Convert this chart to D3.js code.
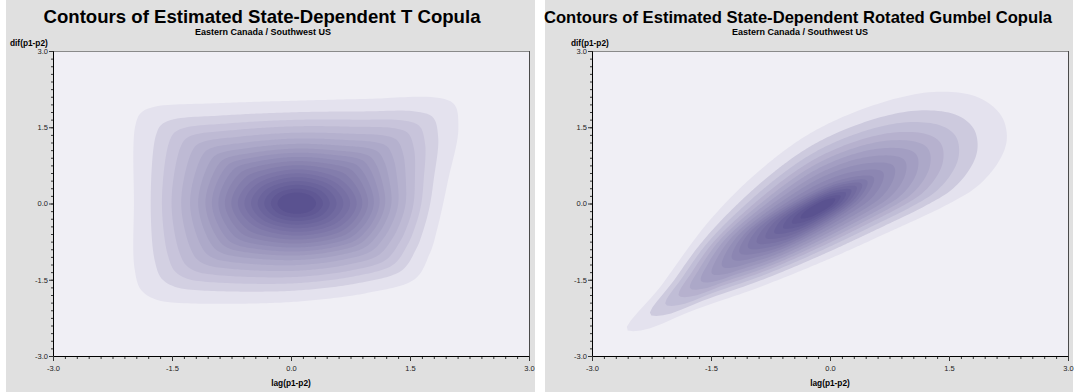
<!DOCTYPE html>
<html>
<head>
<meta charset="utf-8">
<script src="https://cdn.jsdelivr.net/npm/d3@7"></script>
<style>
  body { margin: 0; background: #fff; }
  svg { display: block; font-family: "Liberation Sans", Arial, sans-serif; }
</style>
</head>
<body>
<svg id="chart" width="1078" height="392"></svg>
<script>
// axis ticks shared by both panels
const majorTicks = [-3, -1.5, 0, 1.5, 3];
const minorTicks = d3.range(0, 41).map((i) => -3 + i * 0.15);

// T copula: outer contour (lag, dif)
const tCenter = [0.07, 0.0];
const tOuter = [
  [-1.96, 1.55], [-1.88, 1.8], [-1.7, 1.91], [-1.0, 1.97], [0.0, 2.02],
  [1.0, 2.06], [1.79, 2.09], [2.04, 1.98], [2.11, 1.5], [1.98, 0.46],
  [1.84, -0.52], [1.75, -0.98], [1.54, -1.51], [0.96, -1.76], [0.3, -1.9],
  [-0.3, -1.96], [-1.36, -1.96], [-1.68, -1.9], [-1.88, -1.72], [-1.97, -1.3],
  [-1.98, 0.0]
];
// inner (dark) contour shape, and its level fraction
const tCore = [
  [0.82, 0.0], [0.6, 0.47], [0.07, 0.66], [-0.46, 0.45],
  [-0.66, 0.0], [-0.44, -0.44], [0.07, -0.62], [0.6, -0.45]
];
const tCoreLevel = 0.35;
const tLevels = [1, 0.895, 0.825, 0.765, 0.705, 0.65, 0.6, 0.555, 0.515, 0.475,
  0.435, 0.395, 0.355, 0.315, 0.275, 0.235, 0.195, 0.155, 0.115];

// Rotated Gumbel copula
const gCenter = [-0.1, -0.05];
const gOuter = [
  [-2.56, -2.49], [-2.14, -1.64], [-1.51, -0.32], [-0.88, 0.66], [-0.25, 1.38],
  [0.38, 1.84], [1.01, 2.13], [1.43, 2.2], [1.85, 2.1], [2.14, 1.77],
  [2.23, 1.31], [2.14, 0.86], [1.85, 0.33], [1.43, -0.06], [0.8, -0.52],
  [-0.04, -1.11], [-0.88, -1.64], [-1.72, -2.1], [-2.35, -2.49]
];
const gCore = [
  [0.52, 0.51], [0.14, 0.45], [-0.5, -0.01], [-1.02, -0.59],
  [-1.12, -0.97], [-0.74, -0.91], [-0.1, -0.45], [0.42, 0.13]
];
const gCoreLevel = 0.42;
const gLevels = [1, 0.889, 0.815, 0.75, 0.694, 0.639, 0.583, 0.528, 0.472, 0.426,
  0.38, 0.335, 0.29, 0.245, 0.2, 0.155, 0.11];

const panels = [
  {
    id: "t", title: "Contours of Estimated State-Dependent T Copula", titleSize: 18.6,
    titleX: 262, subX: 263, yLabX: 10, bgX: 6, bgW: 529, left: 53, right: 529,
    center: tCenter, outer: tOuter, core: tCore, coreLevel: tCoreLevel, levels: tLevels, gamma: 0.72
  },
  {
    id: "g", title: "Contours of Estimated State-Dependent Rotated Gumbel Copula", titleSize: 16.6,
    titleX: 798, subX: 800, yLabX: 571, bgX: 545, bgW: 528, left: 592, right: 1068,
    center: gCenter, outer: gOuter, core: gCore, coreLevel: gCoreLevel, levels: gLevels, gamma: 0.65
  }
];

const plotTop = 51, plotBottom = 356;
const svg = d3.select("#chart");
const colorLo = "#e4e2ee", colorHi = "#5a5290";

// smooth a closed outline through the read points, sampled densely
const smoothLine = d3.line().curve(d3.curveCatmullRomClosed.alpha(0.5));
function densify(points, k) {
  const p = svg.append("path").attr("d", smoothLine(points));
  const node = p.node();
  const len = node.getTotalLength();
  const out = d3.range(k).map((i) => {
    const q = node.getPointAtLength((len * i) / k);
    return [q.x, q.y];
  });
  p.remove();
  return out;
}

function polar(points, c) {
  return points
    .map((p) => {
      let a = Math.atan2(p[1] - c[1], p[0] - c[0]);
      if (a < 0) a += 2 * Math.PI;
      return { a: a, r: Math.hypot(p[0] - c[0], p[1] - c[1]) };
    })
    .sort((p, q) => p.a - q.a);
}

function radiusAt(pol, a) {
  const n = pol.length;
  for (let i = 0; i < n - 1; i++) {
    const p = pol[i], q = pol[i + 1];
    if (a >= p.a && a <= q.a) return p.r + ((q.r - p.r) * (a - p.a)) / (q.a - p.a || 1);
  }
  // wrap between last and first angle
  const p = pol[n - 1], q = pol[0];
  const a1 = q.a + 2 * Math.PI;
  const aa = a < p.a ? a + 2 * Math.PI : a;
  return p.r + ((q.r - p.r) * (aa - p.a)) / (a1 - p.a);
}

panels.forEach((pn) => {
  const g = svg.append("g");

  g.append("rect")
    .attr("x", pn.bgX).attr("y", 0)
    .attr("width", pn.bgW).attr("height", 392)
    .attr("fill", "#e0e0e0");

  const x = d3.scaleLinear().domain([-3, 3]).range([pn.left, pn.right]);
  const y = d3.scaleLinear().domain([-3, 3]).range([plotBottom, plotTop]);

  g.append("clipPath").attr("id", "clip-" + pn.id)
    .append("rect")
    .attr("x", pn.left).attr("y", plotTop)
    .attr("width", pn.right - pn.left).attr("height", plotBottom - plotTop);

  g.append("rect")
    .attr("x", pn.left).attr("y", plotTop)
    .attr("width", pn.right - pn.left).attr("height", plotBottom - plotTop)
    .attr("fill", "#f0eff5");

  // contour bands: blend of the outer outline and the core outline
  const outerPol = polar(densify(pn.outer, 720), pn.center);
  const corePol = polar(densify(pn.core, 360), pn.center);
  const angles = d3.range(0, 360, 1).map((a) => (a * Math.PI) / 180);

  const n = pn.levels.length;
  const color = d3.interpolateRgb(colorLo, colorHi);
  const line = d3.line()
    .x((d) => x(d[0]))
    .y((d) => y(d[1]))
    .curve(d3.curveLinearClosed);

  const bands = pn.levels.map((t, k) => {
    const tc = pn.coreLevel;
    const w = t <= tc ? 0 : Math.pow((t - tc) / (1 - tc), 0.7);
    const pts = angles.map((a) => {
      const r = t * (w * radiusAt(outerPol, a) + ((1 - w) * radiusAt(corePol, a)) / tc);
      return [pn.center[0] + r * Math.cos(a), pn.center[1] + r * Math.sin(a)];
    });
    return { pts: pts, fill: color(Math.pow(k / (n - 1), pn.gamma)) };
  });

  g.append("g")
    .attr("clip-path", `url(#clip-${pn.id})`)
    .selectAll("path")
    .data(bands)
    .join("path")
    .attr("d", (d) => line(d.pts))
    .attr("fill", (d) => d.fill);

  // frame top and right
  g.append("line")
    .attr("x1", pn.left).attr("x2", pn.right).attr("y1", plotTop + 0.5).attr("y2", plotTop + 0.5)
    .attr("stroke", "#8a8a8a");
  g.append("line")
    .attr("x1", pn.right + 0.5).attr("x2", pn.right + 0.5).attr("y1", plotTop).attr("y2", plotBottom)
    .attr("stroke", "#4a4a4a");

  // axes
  const fmt = (d) => d.toFixed(1);
  g.append("g")
    .attr("transform", `translate(${pn.left},0)`)
    .call(d3.axisLeft(y).tickValues(minorTicks).tickSize(2).tickFormat("").tickSizeOuter(0));
  g.append("g")
    .attr("transform", `translate(${pn.left},0)`)
    .call(d3.axisLeft(y).tickValues(majorTicks).tickSize(4).tickPadding(1).tickFormat(fmt).tickSizeOuter(0));
  g.append("g")
    .attr("transform", `translate(0,${plotBottom})`)
    .call(d3.axisBottom(x).tickValues(minorTicks).tickSize(3).tickFormat("").tickSizeOuter(0));
  g.append("g")
    .attr("transform", `translate(0,${plotBottom})`)
    .call(d3.axisBottom(x).tickValues(majorTicks).tickSize(5).tickPadding(5).tickFormat(fmt).tickSizeOuter(0));

  g.selectAll(".tick text")
    .attr("font-family", '"Liberation Sans", Arial, sans-serif')
    .attr("font-size", 7.5)
    .attr("fill", "#222");
  g.selectAll(".domain").attr("stroke", "#000");
  g.selectAll(".tick line").attr("stroke", "#333");

  // texts
  g.append("text")
    .attr("x", pn.titleX).attr("y", 23)
    .attr("text-anchor", "middle")
    .attr("font-weight", "bold")
    .attr("font-size", pn.titleSize)
    .attr("fill", "#000")
    .text(pn.title);
  g.append("text")
    .attr("x", pn.subX).attr("y", 35)
    .attr("text-anchor", "middle")
    .attr("font-weight", "bold")
    .attr("font-size", 9)
    .attr("fill", "#000")
    .text("Eastern Canada / Southwest US");
  g.append("text")
    .attr("x", pn.yLabX).attr("y", 45.5)
    .attr("font-weight", "bold")
    .attr("font-size", 8.3)
    .attr("fill", "#000")
    .text("dif(p1-p2)");
  g.append("text")
    .attr("x", (pn.left + pn.right) / 2).attr("y", 386)
    .attr("text-anchor", "middle")
    .attr("font-weight", "bold")
    .attr("font-size", 8.3)
    .attr("fill", "#000")
    .text("lag(p1-p2)");
});
</script>
</body>
</html>
